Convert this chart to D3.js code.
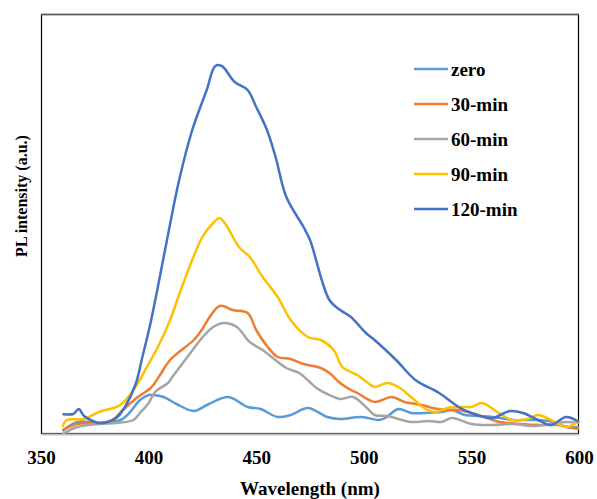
<!DOCTYPE html>
<html>
<head>
<meta charset="utf-8">
<script src="https://cdn.jsdelivr.net/npm/d3@7"></script>
<style>
    body { margin: 0; background: #fff; }
    text { font-family: "Liberation Serif", "Times New Roman", serif; font-weight: bold; fill: #000; }
</style>
</head>
<body>
<div id="chart"></div>
<script>
// series names and colours (legend order)
var seriesNames = ["zero", "30-min", "60-min", "90-min", "120-min"];
var seriesColors = ["#5B9BD5", "#ED7D31", "#A5A5A5", "#FFC000", "#4472C4"];
var xTicks = [350, 400, 450, 500, 550, 600];

// [wavelength nm, PL intensity a.u.]
var zero = [[360,3],[367,12],[377,11],[387,14],[391,21],[396,34],[400,39],[402,39],[407,37],[413,30],[421,23],[428,30],[437,37],[446,27],[452,25],[460,17],[466,19],[474,26],[483,17],[489,15],[499,17],[507,14],[510,16],[516,25],[522,21],[528,21],[536,22],[541,24],[547,19],[553,18],[560,17],[569,14],[579,14],[588,12],[594,7],[600,7]];
var min30 = [[360,4],[367,10],[377,11],[383,14],[388,24],[395,37],[401,46],[405,58],[410,74],[421,94],[424,102],[433,128],[439,124],[446,121],[450,104],[455,88],[460,77],[466,75],[472,70],[480,66],[484,61],[489,51],[494,44],[497,41],[505,32],[513,37],[519,32],[527,29],[532,26],[538,24],[544,24],[553,19],[560,14],[563,12],[573,10],[582,9],[590,9],[597,6],[600,5]];
var min60 = [[360,0],[367,7],[377,10],[385,11],[393,14],[396,21],[400,31],[403,42],[409,51],[411,57],[418,77],[424,94],[426,99],[430,107],[435,111],[441,107],[447,92],[453,84],[464,66],[470,61],[478,46],[483,40],[489,35],[495,37],[501,27],[505,19],[511,18],[522,12],[530,13],[536,12],[541,16],[550,10],[560,9],[569,10],[579,8],[587,10],[594,12],[600,11]];
var min90 = [[360,7],[362,14],[370,15],[377,22],[385,27],[388,31],[393,44],[400,70],[405,90],[410,114],[416,150],[425,197],[430,211],[433,216],[436,209],[442,187],[447,177],[453,157],[460,137],[466,114],[474,97],[480,94],[486,84],[490,67],[494,62],[497,59],[502,51],[505,47],[511,51],[516,47],[522,37],[528,26],[533,22],[539,26],[546,27],[550,27],[555,31],[562,22],[569,14],[576,15],[581,19],[587,14],[594,7],[600,13]];
var min120 = [[360,20],[365,20],[367.5,25],[370,18],[374,13],[377,11],[381,12],[385,16],[389,27],[394,50],[397,76],[401,112],[408,188],[414,252],[420,302],[427,344],[431,368],[434,368],[440,352],[446,344],[450,327],[455,304],[459,277],[464,237],[472,207],[475,194],[484,134],[489,124],[494,117],[501,101],[505,94],[515,74],[524,54],[535,41],[544,27],[550,21],[556,17],[560,16],[568,23],[574,21],[581,14],[587,9],[594,17],[600,12]];
var allSeries = [zero, min30, min60, min90, min120];

var width = 597, height = 499;
var plot = { left: 41, right: 579, top: 14, bottom: 434 };

var svg = d3.select("#chart").append("svg").attr("width", width).attr("height", height);

var x = d3.scaleLinear().domain([350, 600]).range([plot.left, plot.right]);
var y = d3.scaleLinear().domain([0, 420]).range([plot.bottom, plot.top]);

// plot area border
svg.append("rect")
    .attr("x", plot.left + 0.5).attr("y", plot.top + 0.5)
    .attr("width", plot.right - plot.left - 1).attr("height", plot.bottom - plot.top - 1)
    .attr("fill", "none").attr("stroke", "#000").attr("stroke-width", 1.2);
// top edge looks greyer in the original
svg.append("line")
    .attr("x1", plot.left).attr("x2", plot.right).attr("y1", plot.top + 0.5).attr("y2", plot.top + 0.5)
    .attr("stroke", "#595959").attr("stroke-width", 1.5);

// lines, draw 120-min last so it sits on top
var line = d3.line()
    .x(function (d) { return x(d[0]); })
    .y(function (d) { return y(d[1]); })
    .curve(d3.curveCatmullRom.alpha(0.5));

allSeries.forEach(function (s, i) {
    svg.append("path").datum(s)
        .attr("fill", "none")
        .attr("stroke", seriesColors[i])
        .attr("stroke-width", 2.5)
        .attr("stroke-linejoin", "round")
        .attr("d", line);
});

// x axis
var xAxis = svg.append("g")
    .attr("transform", "translate(0," + plot.bottom + ")")
    .call(d3.axisBottom(x).tickValues(xTicks).tickSize(0).tickPadding(17).tickFormat(d3.format("d")));
xAxis.select(".domain").attr("stroke", "#BFBFBF").attr("stroke-width", 2);
xAxis.selectAll("text")
    .style("font-family", "'Liberation Serif', 'Times New Roman', serif")
    .style("font-weight", "bold").style("font-size", "19px").attr("fill", "#000");

// axis titles
svg.append("text").attr("x", 310).attr("y", 495).attr("text-anchor", "middle")
    .style("font-size", "19px").text("Wavelength (nm)");
svg.append("text").attr("transform", "translate(27,196) rotate(-90)").attr("text-anchor", "middle")
    .style("font-size", "16px").text("PL intensity (a.u.)");

// legend
var legend = svg.append("g");
seriesNames.forEach(function (name, i) {
    var ly = 69 + i * 35;
    legend.append("line")
        .attr("x1", 414).attr("x2", 448).attr("y1", ly).attr("y2", ly)
        .attr("stroke", seriesColors[i]).attr("stroke-width", 2.5);
    legend.append("text").attr("x", 451).attr("y", ly + 7)
        .style("font-size", "19px").text(name);
});
</script>
</body>
</html>
